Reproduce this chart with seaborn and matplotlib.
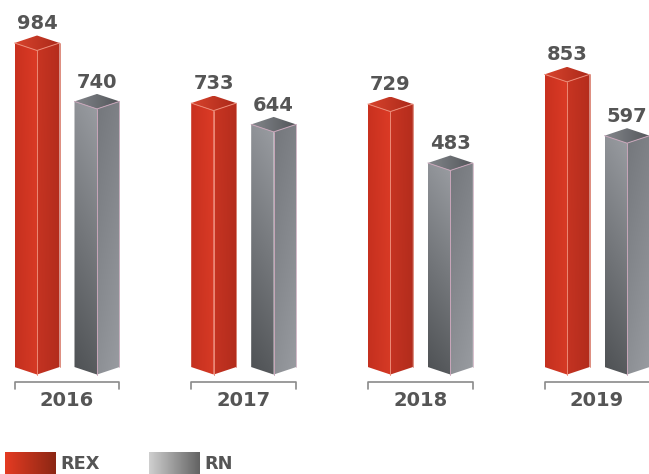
import numpy as np
import pandas as pd
import matplotlib.pyplot as plt
import seaborn as sns

from matplotlib.colors import to_rgb
from matplotlib.patches import Polygon


# Данные графика
years = ['2016', '2017', '2018', '2019']
series = ['REX', 'RN']
rex_values = [984, 733, 729, 853]
rn_values = [740, 644, 483, 597]

# Цвета граней: (верх-лево, верх-право, низ-лево, низ-право)
face_colors = {
    'REX': {
        'left': ('#c9311f', '#dc3b26', '#c4301f', '#d63a25'),
        'right': ('#c83522', '#b52d1d', '#c43322', '#b22c1c'),
        'top': ('#d8442d', '#ab291a', '#d8442d', '#ab291a'),
        'edge': '#ec8a76',
        'side': '#d0604c',
    },
    'RN': {
        'left': ('#8f9297', '#9a9da2', '#4e5154', '#585b5e'),
        'right': ('#74777c', '#7e8186', '#8d9095', '#999ca1'),
        'top': ('#83868b', '#54575b', '#83868b', '#54575b'),
        'edge': '#c9a6ba',
        'side': '#c9a6ba',
    },
}
legend_gradients = {
    'REX': ('#e43b22', '#8c2714'),
    'RN': ('#cfcfcf', '#636363'),
}
text_color = '#555555'

W, H = 649, 474
XLIM = (-0.3792, 3.294)
YLIM = (-815.6, 1163.5)
BASE = -369  # нижняя кромка столбцов


def corner_gradient(c_tl, c_tr, c_bl, c_br, n=64):
    tl, tr, bl, br = (np.array(to_rgb(c)) for c in (c_tl, c_tr, c_bl, c_br))
    u = np.linspace(0, 1, n)[None, :, None]
    v = np.linspace(0, 1, n)[:, None, None]
    top = tl + (tr - tl) * u
    bottom = bl + (br - bl) * u
    return top + (bottom - top) * v


def shade(ax, pts, colors):
    poly = Polygon(pts, closed=True, facecolor='none', edgecolor='none')
    ax.add_patch(poly)
    xs, ys = zip(*pts)
    im = ax.imshow(
        corner_gradient(*colors),
        extent=(min(xs), max(xs), min(ys), max(ys)),
        origin='upper',
        aspect='auto',
        interpolation='bilinear',
        zorder=2
    )
    im.set_clip_path(poly)


df = pd.DataFrame({
    'year': years * 2,
    'series': [series[0]] * len(years) + [series[1]] * len(years),
    'value': rex_values + rn_values,
})

sns.set_theme(style='white')
plt.rcParams['font.family'] = ['DejaVu Sans']

fig = plt.figure(figsize=(W / 100, H / 100), dpi=100)
ax = fig.add_axes([0, 0, 1, 1])

sns.barplot(
    data=df, x='year', y='value', hue='series',
    order=years, hue_order=series,
    palette=['#d23523', '#808388'],
    width=0.679, gap=0.25, legend=False, ax=ax
)

px_y = (YLIM[1] - YLIM[0]) / H
d = 7.5 * px_y

group_edges = {}

for container, name in zip(ax.containers, series):
    cols = face_colors[name]
    for i, bar in enumerate(container):
        v = bar.get_height()
        xl = bar.get_x()
        xr = xl + bar.get_width()
        xm = (xl + xr) / 2
        bar.set_visible(False)

        shade(ax, [(xl, BASE), (xm, BASE - d), (xm, v - d), (xl, v)], cols['left'])
        shade(ax, [(xm, BASE - d), (xr, BASE), (xr, v), (xm, v - d)], cols['right'])
        shade(ax, [(xl, v), (xm, v + d), (xr, v), (xm, v - d)], cols['top'])

        # светлые рёбра
        ax.plot([xm, xm], [BASE - d, v - d], color=cols['edge'], lw=0.7, zorder=3)
        ax.plot([xl, xm, xr], [v, v - d, v], color=cols['edge'], lw=0.7, zorder=3)
        ax.plot([xr, xr], [BASE, v], color=cols['side'], lw=0.5, zorder=3)

        ax.annotate(
            f'{int(round(v))}', (xm, v),
            xytext=(0, 10), textcoords='offset points',
            ha='center', va='baseline',
            fontsize=14, fontweight='bold', color=text_color
        )

        lo, hi = group_edges.get(i, (xl, xr))
        group_edges[i] = (min(lo, xl), max(hi, xr))

# Скобки и подписи годов
trans = ax.get_xaxis_transform()
y_line = 1 - 382 / H
y_tick = 1 - 389 / H
for i, year in enumerate(years):
    lo, hi = group_edges[i]
    ax.plot([lo, lo, hi, hi], [y_tick, y_line, y_line, y_tick],
            color='#8a8a8a', lw=1.2, transform=trans, clip_on=False)
    ax.text((lo + hi) / 2, 1 - 401 / H, year, transform=trans,
            ha='center', va='center', fontsize=14, fontweight='bold',
            color=text_color)

ax.set_xlim(*XLIM)
ax.set_ylim(*YLIM)
ax.axis('off')

# Легенда с градиентными плашками
legend_pos = {'REX': (5, 60), 'RN': (149, 204)}
for name in series:
    sx, tx = legend_pos[name]
    c0, c1 = legend_gradients[name]
    lax = fig.add_axes([sx / W, 0, 51 / W, 22 / H])
    lax.imshow(corner_gradient(c0, c1, c0, c1), aspect='auto',
               interpolation='bilinear')
    lax.axis('off')
    fig.text(tx / W, 1 - 469 / H, name, ha='left', va='baseline',
             fontsize=12.8, fontweight='bold', color=text_color)

fig.savefig('out.png', dpi=100)
